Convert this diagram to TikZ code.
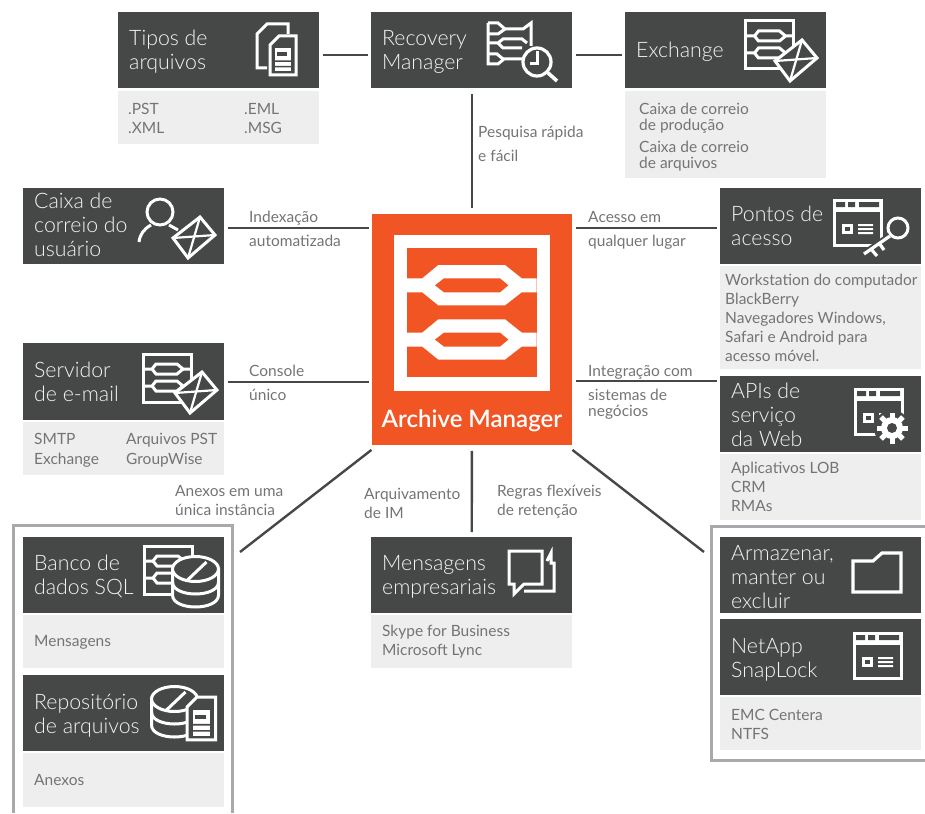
\documentclass[tikz,border=0pt]{standalone}
\usepackage{fontspec}
\setmainfont{Lato Light}
\newfontfamily\amfont{Lato Semibold}
\newfontfamily\detfont{Lato}
\usetikzlibrary{calc}
\definecolor{hdark}{HTML}{464847}
\definecolor{dlight}{HTML}{EEEEEE}
\definecolor{amorange}{HTML}{F15524}
\definecolor{ltext}{HTML}{737477}
\definecolor{framegray}{HTML}{A7A9AC}
\definecolor{titletext}{HTML}{F4F4F4}
\newcommand\pbox[5]{\vbox to #2pt{\hrule height 0pt\vskip #3pt\hbox to #1pt{\hskip #4pt\smash{#5}\hss}\vss}}
\newcommand\tb[2][l]{\begin{tabular}[t]{@{}#1@{}}#2\end{tabular}}
\newcommand\hdr[6]{\node[hdrbox,anchor=north west] (#1) at (#2,#3) {\pbox{201}{#4}{#5}{11}{\tb{#6}}};}
\newcommand\dtl[7][11]{\node[dtlbox,anchor=north west] (#2) at (#3,#4) {\pbox{201}{#5}{#6}{#1}{#7}};}
\newcommand\lbl[4]{\node[lbltext,anchor=base west] (#1) at (#2,#3) {\tb{#4}};}
\tikzset{
  hdrbox/.style={fill=hdark,inner sep=0pt,text=titletext,font=\fontsize{21.3}{24}\selectfont},
  dtlbox/.style={fill=dlight,inner sep=0pt,text=ltext,font=\detfont\fontsize{15.5}{19}\selectfont},
  lbltext/.style={inner sep=0pt,text=ltext,font=\detfont\fontsize{15.5}{19}\selectfont},
  conn/.style={draw=hdark,line width=2.4pt},
  grp/.style={draw=framegray,line width=3pt},
  icn/.style={draw=white,line width=3pt,line join=miter},
  pics/archic/.style={code={
    \draw[icn] (0,0) rectangle (48,48);
    \foreach \c in {15,32}{
      \draw[icn] (0,\c)--(9,\c)--(13,\c-5)--(34,\c-5)--(40,\c)--(48,\c);
      \draw[icn] (9,\c)--(13,\c+5)--(34,\c+5)--(40,\c);
    }
  }},
  pics/envic/.style={code={
    \draw[icn,fill=hdark] (0,0)--(27,-21)--(42,-3)--(15,20)--cycle;
    \draw[icn,line width=2.2pt] (0,0)--(42,-3);
    \draw[icn,line width=2.2pt] (27,-21)--(15,20);
  }},
  pics/winic/.style={code={
    \fill[white] (0,0) rectangle (50,13);
    \fill[hdark] (3,3) rectangle (12,8) (15,3) rectangle (22,8) (26,3) rectangle (46,8);
    \draw[icn,line width=3.2pt] (1.5,1.5) rectangle (48.5,46.5);
    \fill[white] (9,25) rectangle (20,35);
    \fill[hdark] (12,28) rectangle (17,32);
    \fill[white] (25,25) rectangle (40,27) (25,29) rectangle (40,31) (25,33) rectangle (40,35);
  }},
  pics/docic/.style={code={
    \draw[icn,fill=hdark] (0,39)--(26,39)--(26,0)--(9,0)--(0,9)--cycle;
    \fill[white] (5,12) rectangle (21,35);
    \fill[hdark] (7,16) rectangle (17,20);
    \fill[hdark] (5,24.5) rectangle (21,26) (5,30) rectangle (21,31.5);
  }},
  pics/dbic/.style={code={
    \draw[icn,fill=hdark] (-23,0)--(-23,26) .. controls (-23,42) and (23,42) .. (23,26)--(23,0)--cycle;
    \draw[icn,fill=hdark] (0,0) ellipse[x radius=23pt,y radius=12.5pt];
    \draw[icn] (-23,13) .. controls (-23,29) and (23,29) .. (23,13);
    \draw[icn] (-8,11)--(11,-7);
  }}
}
\begin{document}
\begin{tikzpicture}[x=1pt,y=-1pt]
\useasboundingbox (0,0) rectangle (925,813);

% group frames
\draw[grp] (13,813)--(13,525.5)--(232.5,525.5)--(232.5,813);
\draw[grp] (925,526)--(711.5,526)--(711.5,760)--(925,760);

% boxes
\hdr{tipos}{118}{12}{76}{33}{Tipos de\\arquivos}
\dtl[10]{tiposd}{118}{91}{53}{23}{\tb[p{116pt}@{}l]{.PST & .EML\\.XML & .MSG}}
\hdr{recovery}{371}{12}{76}{33}{Recovery\\Manager}
\hdr{exchange}{625}{12}{76}{45}{Exchange}
\dtl[14]{exchanged}{625}{91}{87}{23}{\fontsize{15.5}{16}\selectfont\tb{Caixa de correio\\de produção\\[6pt]Caixa de correio\\de arquivos}}
\hdr{user}{23}{188}{76}{20}{Caixa de\\correio do\\usuário}
\hdr{pontos}{720}{188}{76}{33}{Pontos de\\acesso}
\dtl[5]{pontosd}{720}{266}{103}{19}{\tb{Workstation do computador\\BlackBerry\\Navegadores Windows,\\Safari e Android para\\acesso móvel.}}
\hdr{servidor}{23}{343}{77}{34}{Servidor\\de e-mail}
\dtl{servidord}{23}{422}{53}{22}{\fontsize{15.5}{20}\selectfont\tb[p{92pt}@{}l]{SMTP & Arquivos PST\\Exchange & GroupWise}}
\hdr{apis}{720}{376}{76}{22}{APIs de\\serviço\\da Web}
\dtl{apisd}{720}{454}{66}{19}{\tb{Aplicativos LOB\\CRM\\RMAs}}
\hdr{banco}{23}{537}{76}{33}{Banco de\\dados SQL}
\dtl{bancod}{23}{615}{53}{31}{\tb{Mensagens}}
\hdr{repo}{23}{675}{76}{34}{Repositório\\de arquivos}
\dtl{repod}{23}{753}{54}{32}{\tb{Anexos}}
\hdr{msgs}{371}{537}{76}{33}{Mensagens\\empresariais}
\dtl{msgsd}{371}{615}{53}{21}{\tb{Skype for Business\\Microsoft Lync}}
\hdr{armaz}{720}{537}{76}{23}{Armazenar,\\manter ou\\excluir}
\hdr{netapp}{720}{619}{76}{34}{NetApp\\SnapLock}
\dtl{netappd}{720}{697}{53}{23}{\tb{EMC Centera\\NTFS}}

% central block
\node[fill=amorange,inner sep=0pt,anchor=north west,text=white,font=\amfont\fontsize{24}{28}\selectfont] (am) at (371.5,213.5)
  {\vbox to 231pt{\hrule height 0pt\vskip 213.5pt\hbox to 200.5pt{\hss\smash{Archive Manager}\hss}\vss}};
\fill[white] (393.5,234.5) rectangle (550,390.5);
\fill[amorange] (407,247.7) rectangle (536.7,377.3);
\foreach \d in {0,54.3}{
  \fill[white] (407,278.3+\d)--(422.3,278.3+\d)--(438.3,265+\d)--(505,265+\d)--(521.7,278.3+\d)--(536.7,278.3+\d)--(536.7,292.3+\d)--(521.7,292.3+\d)--(505,305.3+\d)--(438.3,305.3+\d)--(422.3,292.3+\d)--(407,292.3+\d)--cycle;
  \fill[amorange] (435,285.3+\d)--(444,278.3+\d)--(500,278.3+\d)--(508.3,285.3+\d)--(500,292.3+\d)--(444,292.3+\d)--cycle;
}

% connectors
\coordinate (fw) at (240,552);
\coordinate (fe) at (704,552);
\draw[conn,shorten <=4pt,shorten >=3pt] ([yshift=-5pt]tipos.east)--([yshift=-5pt]recovery.west);
\draw[conn,shorten <=4pt,shorten >=3pt] ([yshift=-5pt]recovery.east)--([yshift=-5pt]exchange.west);
\draw[conn,shorten <=6pt,shorten >=6pt] ([xshift=0.5pt]recovery.south)--([xshift=0.5pt]recovery.south |- am.north);
\draw[conn,shorten <=4pt,shorten >=2.5pt] ([yshift=-2pt]user.east)--([yshift=-2pt]user.east -| am.west);
\draw[conn,shorten <=4pt,shorten >=3pt] ([yshift=-2pt]am.east |- pontos.west)--([yshift=-2pt]pontos.west);
\draw[conn,shorten <=4pt,shorten >=2.5pt] (servidor.east)--(servidor.east -| am.west);
\draw[conn,shorten <=4pt,shorten >=3pt] (am.east |- 0,381)--(apis.west |- 0,381);
\draw[conn] ([yshift=-5pt]am.south west)--(fw);
\draw[conn,shorten <=6pt,shorten >=5pt] (am.south)--(msgs.north);
\draw[conn] ([yshift=-5pt]am.south east)--(fe);

% connector labels
\lbl{l1}{478}{138}{\fontsize{15.5}{24}\selectfont\tb{Pesquisa rápida\\e fácil}}
\lbl{l2}{249}{222}{\fontsize{15.5}{24}\selectfont\tb{Indexação\\automatizada}}
\lbl{l3}{588}{222}{\fontsize{15.5}{24}\selectfont\tb{Acesso em\\qualquer lugar}}
\lbl{l4}{249}{376}{\fontsize{15.5}{24}\selectfont\tb{Console\\único}}
\lbl{l5}{588}{376}{\fontsize{15.5}{24}\selectfont\tb{Integração com\\sistemas de\\[-8pt]negócios}}
\lbl{l6}{175}{496}{\tb{Anexos em uma\\única instância}}
\lbl{l7}{364}{499}{\tb{Arquivamento\\de IM}}
\lbl{l8}{497}{496}{\tb{Regras flexíveis\\de retenção}}

% icons
% Tipos de arquivos
\draw[icn] (267,68)--(257,68)--(257,34)--(267,24)--(288,24)--(288,34);
\pic at (270,36) {docic};
% Recovery Manager
\draw[icn] (488,23)--(498,23)--(505,29)--(523,29)--(531,23)--(531,46);
\draw[icn] (488,23)--(488,64)--(498,64)--(504,59)--(522,59);
\draw[icn] (488,34)--(498,34)--(505,29);
\draw[icn] (488,43)--(498,43)--(503,39)--(522,39)--(527,43);
\draw[icn] (498,43)--(503,48)--(522,48);
\draw[icn] (488,54)--(497,54)--(503,59);
\draw[icn,fill=hdark,line width=3.2pt] (537,62) circle[radius=14pt];
\draw[icn] (537,51)--(537,64)--(530,64);
\draw[icn,line width=3.6pt] (547,72)--(557,81);
% Exchange
\pic at (745.5,21) {archic};
\pic at (775,61) {envic};
% Caixa de correio do usuario
\draw[icn] (160,212) circle[radius=13pt];
\draw[icn] (139,242) .. controls (140,234) and (144,229) .. (151,225);
\draw[icn] (169,225)--(178,230);
\pic at (173,238) {envic};
% Pontos de acesso
\pic at (833,199) {winic};
\draw[icn,fill=hdark] (898,228) circle[radius=10pt];
\draw[draw=hdark,line width=7pt] (890,236)--(864,254);
\draw[icn,line width=3.2pt] (890,236)--(864,254);
\draw[icn,line width=3.2pt] (871,249)--(877,256);
\draw[icn,line width=3.2pt] (879,243)--(884,250);
% Servidor
\pic at (143,354) {archic};
\pic at (175,393) {envic};
% APIs
\pic at (854,388) {winic};
\fill[hdark] (892,428) circle[radius=18pt];
\fill[white] (892,428) circle[radius=11pt];
\foreach \a in {0,45,...,315}{\draw[white,line width=5pt] ($(892,428)+(\a:8pt)$)--($(892,428)+(\a:15.5pt)$);}
\fill[hdark] (892,428) circle[radius=5pt];
% Banco
\pic at (144,546) {archic};
\pic at (195.5,569) {dbic};
% Repositorio
\pic at (174.5,699) {dbic};
\pic[scale=1.1] at (187,697) {docic};
% Mensagens
\draw[icn] (509,551)--(542,551)--(542,584)--(524,584)--(514,594)--(514,584)--(509,584)--cycle;
\draw[icn] (547,561)--(551,553)--(551,563)--(554,563)--(554,591)--(524,591);
% Armazenar
\draw[icn,line width=3.2pt] (853,592)--(901,592)--(901,553)--(882,553)--(873,561)--(853,561)--cycle;
% NetApp
\pic at (853,632) {winic};
\end{tikzpicture}
\end{document}
